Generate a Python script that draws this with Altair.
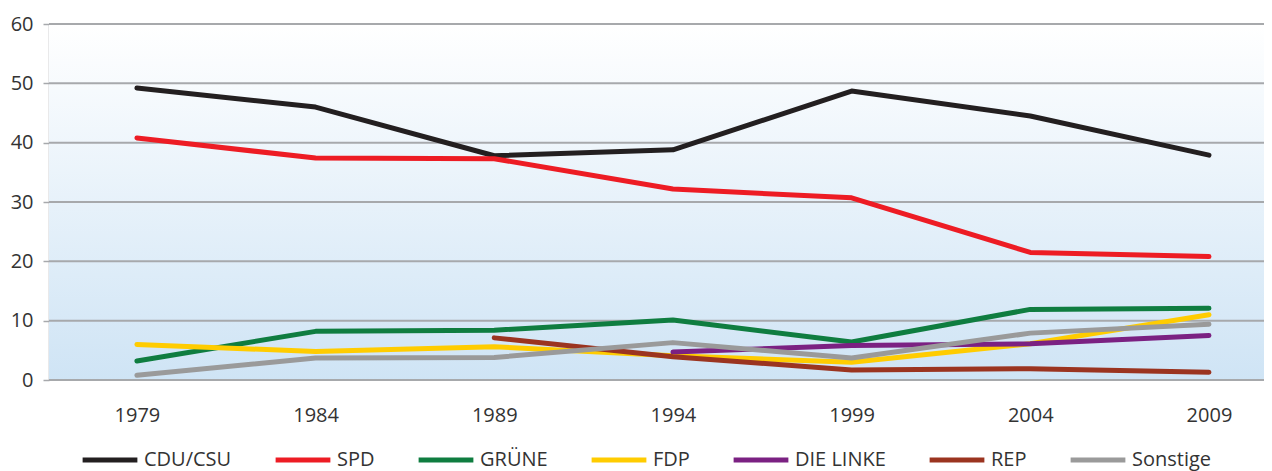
import altair as alt
import pandas as pd

years = [1979, 1984, 1989, 1994, 1999, 2004, 2009]
parties = ["CDU/CSU", "SPD", "GRÜNE", "FDP", "DIE LINKE", "REP", "Sonstige"]
colors = ["#231f20", "#ed1c24", "#0f7d40", "#ffcc00", "#7b2182", "#9b3420", "#9a9a9a"]

cdu = [49.2, 46.0, 37.8, 38.8, 48.7, 44.5, 37.9]
spd = [40.8, 37.4, 37.3, 32.2, 30.7, 21.5, 20.8]
gruene = [3.2, 8.2, 8.4, 10.1, 6.4, 11.9, 12.1]
fdp = [6.0, 4.8, 5.6, 4.1, 3.0, 6.1, 11.0]
linke = [None, None, None, 4.7, 5.8, 6.1, 7.5]
rep = [None, None, 7.1, 3.9, 1.7, 1.9, 1.3]
sonstige = [0.8, 3.7, 3.8, 6.3, 3.7, 7.9, 9.4]
grid_values = [0, 10, 20, 30, 40, 50, 60]

series = [cdu, spd, gruene, fdp, linke, rep, sonstige]
rows = []
for p, vals in zip(parties, series):
    for y, v in zip(years, vals):
        if v is not None:
            rows.append({"Jahr": y, "Partei": p, "Wert": v})
df = pd.DataFrame(rows)

W, H = 1215, 356
FONT = "Open Sans, sans-serif"

xscale = alt.Scale(domain=[1976.54, 2010.54], nice=False, zero=False)
yscale = alt.Scale(domain=[0, 60], nice=False)

yaxis = alt.Axis(values=grid_values, title=None, grid=False,
                 labelFontSize=20, labelFont=FONT, labelColor="#333333",
                 tickColor="#a7a9ac", tickSize=6, tickWidth=1.5,
                 domainColor="#a7a9ac", domainWidth=1.5, labelPadding=10)

bg = alt.Chart(pd.DataFrame({"a": [0], "b": [60]})).mark_rect(
    fill=alt.Gradient(
        gradient="linear", x1=0, y1=0, x2=0, y2=1,
        stops=[alt.GradientStop(offset=0, color="#ffffff"),
               alt.GradientStop(offset=1, color="#cfe4f5")],
    )
).encode(
    y=alt.Y("a:Q", scale=yscale, axis=yaxis),
    y2="b:Q",
    x=alt.value(0), x2=alt.value(W),
)

grid = alt.Chart(pd.DataFrame({"g": grid_values})).mark_rule(
    color="#a7a9ac", strokeWidth=2
).encode(
    y=alt.Y("g:Q", scale=yscale, axis=yaxis),
    x=alt.value(0), x2=alt.value(W),
)

lines = alt.Chart(df).mark_line(strokeWidth=5, strokeCap="round", strokeJoin="round").encode(
    x=alt.X("Jahr:Q", scale=xscale,
            axis=alt.Axis(values=years, format="d", title=None, grid=False, ticks=False,
                          domain=False, labelFontSize=20, labelFont=FONT,
                          labelColor="#333333", labelPadding=25)),
    y=alt.Y("Wert:Q", scale=yscale, axis=yaxis),
    color=alt.Color("Partei:N", scale=alt.Scale(domain=parties, range=colors),
                    legend=alt.Legend(title=None, orient="none", legendX=31, legendY=406,
                                      direction="horizontal", symbolType="stroke",
                                      symbolStrokeWidth=5, symbolSize=3000,
                                      labelFontSize=20, labelFont=FONT,
                                      labelColor="#333333", columnPadding=33,
                                      labelOffset=4, symbolLimit=0)),
    detail="Partei:N",
)

chart = alt.layer(bg, grid, lines).properties(
    width=W, height=H,
    autosize=alt.AutoSizeParams(type="none"),
    padding={"left": 41, "top": 16, "right": 0, "bottom": 91},
).configure_view(stroke=None)

chart.save("out.html", embed_options={"renderer": "svg", "actions": False})
